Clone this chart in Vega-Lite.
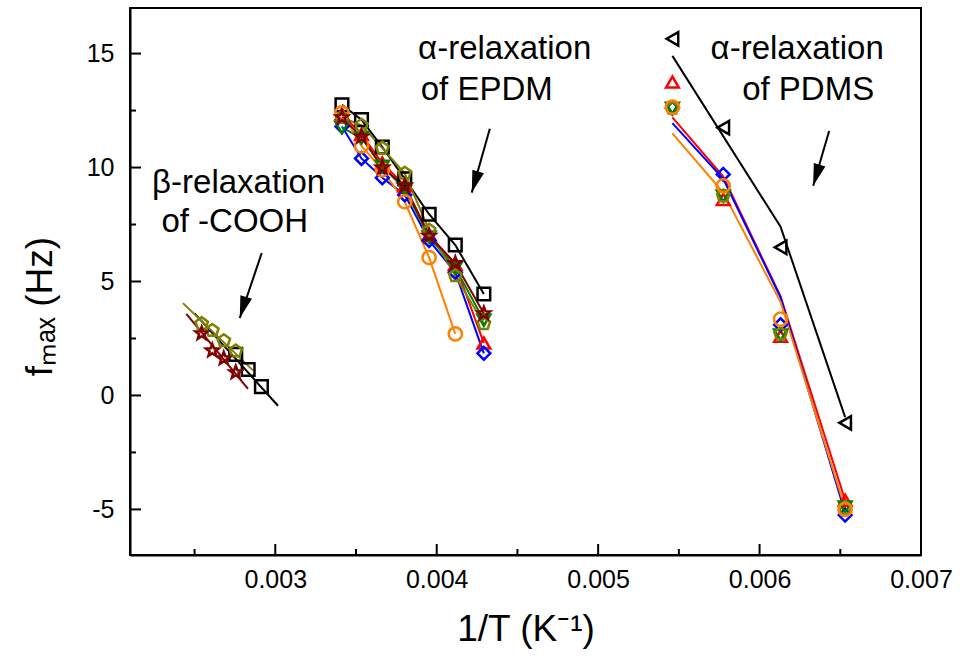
{
  "$schema": "https://vega.github.io/schema/vega-lite/v6.json",
  "width": 791,
  "height": 547,
  "autosize": {"type": "none"},
  "padding": {"left": 130, "top": 8, "right": 45, "bottom": 109},
  "background": "white",
  "config": {"view": {"stroke": "black", "strokeWidth": 2}, "font": "Liberation Sans"},
  "datasets": {
    "lines": [
      {"s": "A", "g": "A-beta", "o": 1, "x": 0.0025, "y": 3.6},
      {"s": "A", "g": "A-beta", "o": 2, "x": 0.003017, "y": -0.45},
      {"s": "E", "g": "E-beta", "o": 1, "x": 0.002428, "y": 4.05},
      {"s": "E", "g": "E-beta", "o": 2, "x": 0.002862, "y": 1.1},
      {"s": "G", "g": "G-beta", "o": 1, "x": 0.002449, "y": 3.58},
      {"s": "G", "g": "G-beta", "o": 2, "x": 0.002831, "y": 0.29},

      {"s": "A", "g": "A-epdm", "o": 1, "x": 0.003413, "y": 12.75},
      {"s": "A", "g": "A-epdm", "o": 2, "x": 0.003534, "y": 12.1},
      {"s": "A", "g": "A-epdm", "o": 3, "x": 0.003663, "y": 10.9},
      {"s": "A", "g": "A-epdm", "o": 4, "x": 0.003802, "y": 9.5},
      {"s": "A", "g": "A-epdm", "o": 5, "x": 0.003953, "y": 7.95},
      {"s": "A", "g": "A-epdm", "o": 6, "x": 0.004115, "y": 6.6},
      {"s": "A", "g": "A-epdm", "o": 7, "x": 0.004292, "y": 4.45},
      {"s": "B", "g": "B-epdm", "o": 1, "x": 0.003413, "y": 12.35},
      {"s": "B", "g": "B-epdm", "o": 2, "x": 0.003534, "y": 11.45},
      {"s": "B", "g": "B-epdm", "o": 3, "x": 0.003663, "y": 10.2},
      {"s": "B", "g": "B-epdm", "o": 4, "x": 0.003802, "y": 9.2},
      {"s": "B", "g": "B-epdm", "o": 5, "x": 0.003953, "y": 7.05},
      {"s": "B", "g": "B-epdm", "o": 6, "x": 0.004115, "y": 5.75},
      {"s": "B", "g": "B-epdm", "o": 7, "x": 0.004292, "y": 2.3},
      {"s": "C", "g": "C-epdm", "o": 1, "x": 0.003413, "y": 11.8},
      {"s": "C", "g": "C-epdm", "o": 2, "x": 0.003534, "y": 10.4},
      {"s": "C", "g": "C-epdm", "o": 3, "x": 0.003663, "y": 9.55},
      {"s": "C", "g": "C-epdm", "o": 4, "x": 0.003802, "y": 8.8},
      {"s": "C", "g": "C-epdm", "o": 5, "x": 0.003953, "y": 6.8},
      {"s": "C", "g": "C-epdm", "o": 6, "x": 0.004115, "y": 5.4},
      {"s": "C", "g": "C-epdm", "o": 7, "x": 0.004292, "y": 1.85},
      {"s": "D", "g": "D-epdm", "o": 1, "x": 0.003413, "y": 11.75},
      {"s": "D", "g": "D-epdm", "o": 2, "x": 0.003534, "y": 11.3},
      {"s": "D", "g": "D-epdm", "o": 3, "x": 0.003663, "y": 10.05},
      {"s": "D", "g": "D-epdm", "o": 4, "x": 0.003802, "y": 9.05},
      {"s": "D", "g": "D-epdm", "o": 5, "x": 0.003953, "y": 6.95},
      {"s": "D", "g": "D-epdm", "o": 6, "x": 0.004115, "y": 5.6},
      {"s": "D", "g": "D-epdm", "o": 7, "x": 0.004292, "y": 3.3},
      {"s": "E", "g": "E-epdm", "o": 1, "x": 0.003413, "y": 12.2},
      {"s": "E", "g": "E-epdm", "o": 2, "x": 0.003534, "y": 11.85},
      {"s": "E", "g": "E-epdm", "o": 3, "x": 0.003663, "y": 10.85},
      {"s": "E", "g": "E-epdm", "o": 4, "x": 0.003802, "y": 9.75},
      {"s": "E", "g": "E-epdm", "o": 5, "x": 0.003953, "y": 7.25},
      {"s": "E", "g": "E-epdm", "o": 6, "x": 0.004115, "y": 5.25},
      {"s": "E", "g": "E-epdm", "o": 7, "x": 0.004292, "y": 3.15},
      {"s": "F", "g": "F-epdm", "o": 1, "x": 0.003413, "y": 12.4},
      {"s": "F", "g": "F-epdm", "o": 2, "x": 0.003534, "y": 10.95},
      {"s": "F", "g": "F-epdm", "o": 3, "x": 0.003663, "y": 9.9},
      {"s": "F", "g": "F-epdm", "o": 4, "x": 0.003802, "y": 8.5},
      {"s": "F", "g": "F-epdm", "o": 5, "x": 0.003953, "y": 6.05},
      {"s": "F", "g": "F-epdm", "o": 6, "x": 0.004115, "y": 2.7},
      {"s": "G", "g": "G-epdm", "o": 1, "x": 0.003413, "y": 12.2},
      {"s": "G", "g": "G-epdm", "o": 2, "x": 0.003534, "y": 11.35},
      {"s": "G", "g": "G-epdm", "o": 3, "x": 0.003663, "y": 10.0},
      {"s": "G", "g": "G-epdm", "o": 4, "x": 0.003802, "y": 9.2},
      {"s": "G", "g": "G-epdm", "o": 5, "x": 0.003953, "y": 7.0},
      {"s": "G", "g": "G-epdm", "o": 6, "x": 0.004115, "y": 5.8},
      {"s": "G", "g": "G-epdm", "o": 7, "x": 0.004292, "y": 3.6},

      {"s": "H", "g": "H-pdms", "o": 1, "x": 0.00546, "y": 14.9},
      {"s": "H", "g": "H-pdms", "o": 2, "x": 0.00613, "y": 7.4},
      {"s": "H", "g": "H-pdms", "o": 3, "x": 0.00653, "y": -0.95},
      {"s": "B", "g": "B-pdms", "o": 1, "x": 0.00546, "y": 12.2},
      {"s": "B", "g": "B-pdms", "o": 2, "x": 0.005775, "y": 9.6},
      {"s": "B", "g": "B-pdms", "o": 3, "x": 0.00613, "y": 4.35},
      {"s": "B", "g": "B-pdms", "o": 4, "x": 0.00653, "y": -4.6},
      {"s": "C", "g": "C-pdms", "o": 1, "x": 0.00546, "y": 11.95},
      {"s": "C", "g": "C-pdms", "o": 2, "x": 0.005775, "y": 9.5},
      {"s": "C", "g": "C-pdms", "o": 3, "x": 0.00613, "y": 4.3},
      {"s": "C", "g": "C-pdms", "o": 4, "x": 0.00653, "y": -5.15},
      {"s": "F", "g": "F-pdms", "o": 1, "x": 0.00546, "y": 11.5},
      {"s": "F", "g": "F-pdms", "o": 2, "x": 0.005775, "y": 8.9},
      {"s": "F", "g": "F-pdms", "o": 3, "x": 0.00613, "y": 4.1},
      {"s": "F", "g": "F-pdms", "o": 4, "x": 0.00653, "y": -4.95}
    ],
    "points": [
      {"s": "A", "x": 0.002755, "y": 1.8},
      {"s": "A", "x": 0.002832, "y": 1.14},
      {"s": "A", "x": 0.002914, "y": 0.39},
      {"s": "A", "x": 0.003413, "y": 12.75},
      {"s": "A", "x": 0.003534, "y": 12.1},
      {"s": "A", "x": 0.003663, "y": 10.9},
      {"s": "A", "x": 0.003802, "y": 9.5},
      {"s": "A", "x": 0.003953, "y": 7.95},
      {"s": "A", "x": 0.004115, "y": 6.6},
      {"s": "A", "x": 0.004292, "y": 4.45},
      {"s": "B", "x": 0.003413, "y": 12.35},
      {"s": "B", "x": 0.003534, "y": 11.45},
      {"s": "B", "x": 0.003663, "y": 10.2},
      {"s": "B", "x": 0.003802, "y": 9.2},
      {"s": "B", "x": 0.003953, "y": 7.05},
      {"s": "B", "x": 0.004115, "y": 5.75},
      {"s": "B", "x": 0.004292, "y": 2.3},
      {"s": "B", "x": 0.00546, "y": 13.75},
      {"s": "B", "x": 0.005775, "y": 8.6},
      {"s": "B", "x": 0.00613, "y": 2.6},
      {"s": "B", "x": 0.00653, "y": -4.6},
      {"s": "C", "x": 0.003413, "y": 11.8},
      {"s": "C", "x": 0.003534, "y": 10.4},
      {"s": "C", "x": 0.003663, "y": 9.55},
      {"s": "C", "x": 0.003802, "y": 8.8},
      {"s": "C", "x": 0.003953, "y": 6.8},
      {"s": "C", "x": 0.004115, "y": 5.4},
      {"s": "C", "x": 0.004292, "y": 1.85},
      {"s": "C", "x": 0.00546, "y": 12.6},
      {"s": "C", "x": 0.005775, "y": 9.7},
      {"s": "C", "x": 0.00613, "y": 3.1},
      {"s": "C", "x": 0.00653, "y": -5.25},
      {"s": "D", "x": 0.003413, "y": 11.75},
      {"s": "D", "x": 0.003534, "y": 11.3},
      {"s": "D", "x": 0.003663, "y": 10.05},
      {"s": "D", "x": 0.003802, "y": 9.05},
      {"s": "D", "x": 0.003953, "y": 6.95},
      {"s": "D", "x": 0.004115, "y": 5.6},
      {"s": "D", "x": 0.004292, "y": 3.3},
      {"s": "D", "x": 0.00546, "y": 12.6},
      {"s": "D", "x": 0.005775, "y": 8.75},
      {"s": "D", "x": 0.00613, "y": 2.65},
      {"s": "D", "x": 0.00653, "y": -4.9},
      {"s": "E", "x": 0.002544, "y": 3.15},
      {"s": "E", "x": 0.00261, "y": 2.85},
      {"s": "E", "x": 0.002681, "y": 2.4},
      {"s": "E", "x": 0.002755, "y": 1.95},
      {"s": "E", "x": 0.003413, "y": 12.2},
      {"s": "E", "x": 0.003534, "y": 11.85},
      {"s": "E", "x": 0.003663, "y": 10.85},
      {"s": "E", "x": 0.003802, "y": 9.75},
      {"s": "E", "x": 0.003953, "y": 7.25},
      {"s": "E", "x": 0.004115, "y": 5.25},
      {"s": "E", "x": 0.004292, "y": 3.15},
      {"s": "E", "x": 0.00546, "y": 12.6},
      {"s": "E", "x": 0.005775, "y": 8.75},
      {"s": "E", "x": 0.00613, "y": 2.7},
      {"s": "E", "x": 0.00653, "y": -4.95},
      {"s": "F", "x": 0.003413, "y": 12.4},
      {"s": "F", "x": 0.003534, "y": 10.95},
      {"s": "F", "x": 0.003663, "y": 9.9},
      {"s": "F", "x": 0.003802, "y": 8.5},
      {"s": "F", "x": 0.003953, "y": 6.05},
      {"s": "F", "x": 0.004115, "y": 2.7},
      {"s": "F", "x": 0.00546, "y": 12.65},
      {"s": "F", "x": 0.005775, "y": 9.2},
      {"s": "F", "x": 0.00613, "y": 3.35},
      {"s": "F", "x": 0.00653, "y": -5.0},
      {"s": "G", "x": 0.002544, "y": 2.72},
      {"s": "G", "x": 0.00261, "y": 1.97},
      {"s": "G", "x": 0.002681, "y": 1.62},
      {"s": "G", "x": 0.002755, "y": 1.01},
      {"s": "G", "x": 0.003413, "y": 12.2},
      {"s": "G", "x": 0.003534, "y": 11.35},
      {"s": "G", "x": 0.003663, "y": 10.0},
      {"s": "G", "x": 0.003802, "y": 9.2},
      {"s": "G", "x": 0.003953, "y": 7.0},
      {"s": "G", "x": 0.004115, "y": 5.8},
      {"s": "G", "x": 0.004292, "y": 3.6},
      {"s": "H", "x": 0.00546, "y": 15.65},
      {"s": "H", "x": 0.005775, "y": 11.75},
      {"s": "H", "x": 0.00613, "y": 6.5},
      {"s": "H", "x": 0.00653, "y": -1.2}
    ],
    "labels": [
      {"x": 0.002773, "y": 9.3, "t": "β-relaxation"},
      {"x": 0.002749, "y": 7.6, "t": "of -COOH"},
      {"x": 0.004421, "y": 15.2, "t": "α-relaxation"},
      {"x": 0.00431, "y": 13.4, "t": "of EPDM"},
      {"x": 0.006233, "y": 15.2, "t": "α-relaxation"},
      {"x": 0.006301, "y": 13.4, "t": "of PDMS"}
    ],
    "arrows": [
      {"xa": 0.002916, "ya": 6.25, "xb": 0.00278, "yb": 3.4},
      {"xa": 0.004329, "ya": 11.7, "xb": 0.004217, "yb": 8.9},
      {"xa": 0.006431, "ya": 11.6, "xb": 0.006332, "yb": 9.2}
    ]
  },
  "layer": [
    {
      "data": {"name": "lines"},
      "mark": {"type": "line", "strokeWidth": 2},
      "encoding": {
        "x": {"field": "x", "type": "quantitative",
          "scale": {"domain": [0.0021, 0.007], "nice": false, "zero": false},
          "axis": {"orient": "bottom",
            "values": [0.003, 0.004, 0.005, 0.006, 0.007], "format": ".3f",
            "ticks": false,
            "grid": false, "domain": true, "domainColor": "black", "domainWidth": 2,
            "labelFont": "Liberation Sans", "labelFontSize": 25, "labelColor": "black", "labelPadding": 12,
            "labelFlush": false, "labelOverlap": false, "labelBound": false,
            "title": "1/T (K⁻¹)", "titleFont": "Liberation Sans", "titleFontSize": 37, "titleFontWeight": "normal",
            "titleColor": "black", "titleX": 395.5, "titleY": 74, "titleBaseline": "middle"}},
        "y": {"field": "y", "type": "quantitative",
          "scale": {"domain": [-7, 17], "nice": false, "zero": false},
          "axis": {"orient": "left",
            "values": [-5, 0, 5, 10, 15],
            "labelExpr": "(datum.value < 0 ? '-' : '') + format(abs(datum.value), 'd')",
            "ticks": false,
            "grid": false, "domain": true, "domainColor": "black", "domainWidth": 2,
            "labelFont": "Liberation Sans", "labelFontSize": 25, "labelColor": "black", "labelPadding": 16,
            "labelFlush": false, "labelOverlap": false, "labelBound": false,
            "title": "fₘₐₓ (Hz)", "titleFont": "Liberation Sans", "titleFontSize": 37, "titleFontWeight": "normal",
            "titleColor": "black", "titleX": -90, "titleY": 298, "titleAngle": -90, "titleBaseline": "middle"}},
        "color": {"field": "s", "type": "nominal",
          "scale": {"domain": ["A", "B", "C", "D", "E", "F", "G", "H"],
            "range": ["#000000", "#FF0000", "#0000FF", "#008000", "#808000", "#FF8000", "#800000", "#000000"]},
          "legend": null},
        "detail": {"field": "g", "type": "nominal"},
        "order": {"field": "o", "type": "quantitative"}
      }
    },
    {
      "data": {"values": [{"v": 0.003}, {"v": 0.004}, {"v": 0.005}, {"v": 0.006}]},
      "mark": {"type": "tick", "orient": "vertical", "size": 11, "thickness": 2, "color": "black", "opacity": 1, "yOffset": -5.5},
      "encoding": {
        "x": {"field": "v", "type": "quantitative"},
        "y": {"datum": -7, "type": "quantitative"}
      }
    },
    {
      "data": {"values": [{"v": 0.0025}, {"v": 0.0035}, {"v": 0.0045}, {"v": 0.0055}, {"v": 0.0065}]},
      "mark": {"type": "tick", "orient": "vertical", "size": 6, "thickness": 2, "color": "black", "opacity": 1, "yOffset": -3},
      "encoding": {
        "x": {"field": "v", "type": "quantitative"},
        "y": {"datum": -7, "type": "quantitative"}
      }
    },
    {
      "data": {"values": [{"v": -5}, {"v": 0}, {"v": 5}, {"v": 10}, {"v": 15}]},
      "mark": {"type": "tick", "orient": "horizontal", "size": 11, "thickness": 2, "color": "black", "opacity": 1, "xOffset": 5.5},
      "encoding": {
        "y": {"field": "v", "type": "quantitative"},
        "x": {"datum": 0.0021, "type": "quantitative"}
      }
    },
    {
      "data": {"values": [{"v": -2.5}, {"v": 2.5}, {"v": 7.5}, {"v": 12.5}]},
      "mark": {"type": "tick", "orient": "horizontal", "size": 6, "thickness": 2, "color": "black", "opacity": 1, "xOffset": 3},
      "encoding": {
        "y": {"field": "v", "type": "quantitative"},
        "x": {"datum": 0.0021, "type": "quantitative"}
      }
    },
    {
      "data": {"name": "points"},
      "mark": {"type": "point", "filled": false, "strokeWidth": 2.5, "opacity": 1},
      "encoding": {
        "x": {"field": "x", "type": "quantitative"},
        "y": {"field": "y", "type": "quantitative"},
        "color": {"field": "s", "type": "nominal", "legend": null},
        "shape": {"field": "s", "type": "nominal",
          "scale": {"domain": ["A", "B", "C", "D", "E", "F", "G", "H"],
            "range": ["square", "triangle-up", "diamond", "triangle-down",
              "M0,-1L0.951,-0.309L0.588,0.809L-0.588,0.809L-0.951,-0.309Z",
              "circle",
              "M0,-1L0.247,-0.34L0.951,-0.309L0.399,0.13L0.588,0.809L0,0.42L-0.588,0.809L-0.399,0.13L-0.951,-0.309L-0.247,-0.34Z",
              "triangle-left"]},
          "legend": null},
        "size": {"field": "s", "type": "nominal",
          "scale": {"domain": ["A", "B", "C", "D", "E", "F", "G", "H"],
            "range": [160, 180, 240, 180, 260, 190, 330, 180]},
          "legend": null}
      }
    },
    {
      "data": {"name": "labels"},
      "mark": {"type": "text", "font": "Liberation Sans", "fontSize": 33, "color": "black", "align": "center", "baseline": "middle"},
      "encoding": {
        "x": {"field": "x", "type": "quantitative"},
        "y": {"field": "y", "type": "quantitative"},
        "text": {"field": "t", "type": "nominal"}
      }
    },
    {
      "data": {"name": "arrows"},
      "mark": {"type": "rule", "strokeWidth": 2, "color": "black"},
      "encoding": {
        "x": {"field": "xa", "type": "quantitative"},
        "y": {"field": "ya", "type": "quantitative"},
        "x2": {"field": "xb"},
        "y2": {"field": "yb"}
      }
    },
    {
      "data": {"name": "arrows"},
      "mark": {"type": "point", "shape": "M0,0L0.55,2L-0.55,2Z", "filled": true, "color": "black", "opacity": 1, "size": 484, "angle": 197},
      "encoding": {
        "x": {"field": "xb", "type": "quantitative"},
        "y": {"field": "yb", "type": "quantitative"}
      }
    }
  ]
}
